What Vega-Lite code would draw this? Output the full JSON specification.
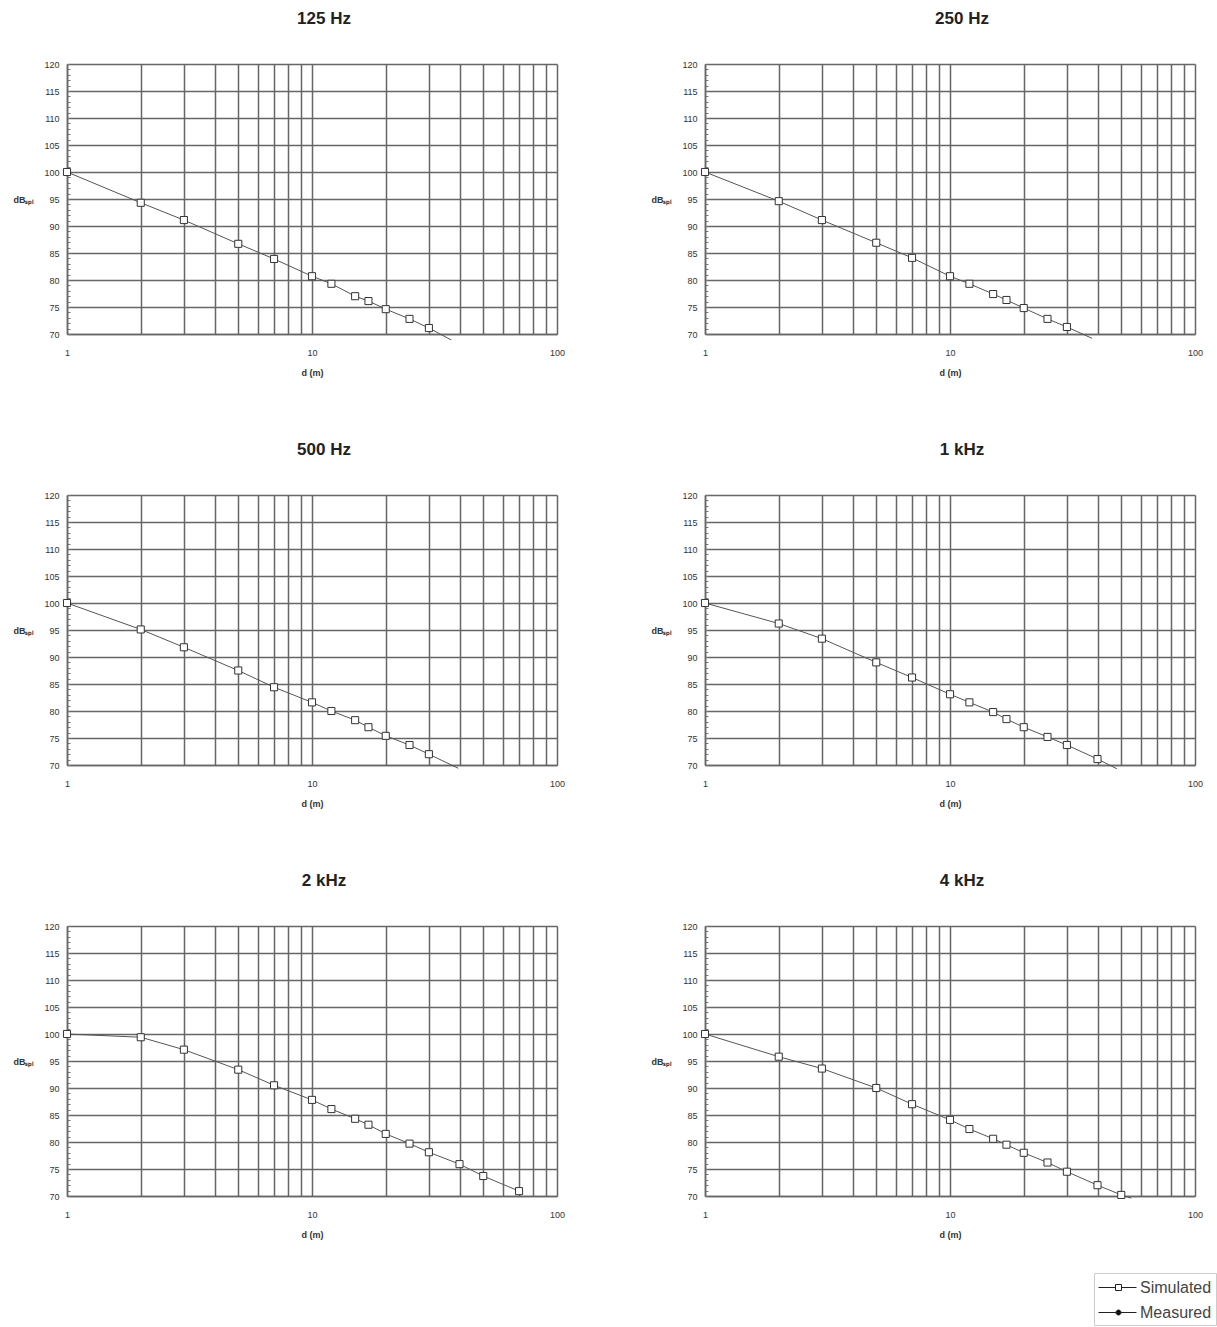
{
  "$schema": "https://vega.github.io/schema/vega-lite/v6.json",
  "background": "white",
  "padding": {"left": 13, "top": 10, "right": 0, "bottom": 0},
  "config": {
    "font": "Liberation Sans",
    "view": {"stroke": null},
    "title": {"font": "Liberation Sans", "fontSize": 17, "fontWeight": "bold", "color": "#222", "offset": 32, "anchor": "middle", "dx": 12},
    "axis": {"labelFont": "Liberation Sans", "titleFont": "Liberation Sans", "labelColor": "#333", "titleColor": "#333"}
  },
  "datasets": {
    "pts": [
      {"panel": "125 Hz", "d": 1, "db": 100, "series": "Simulated", "marker": true},
      {"panel": "125 Hz", "d": 2, "db": 94.3, "series": "Simulated", "marker": true},
      {"panel": "125 Hz", "d": 3, "db": 91.1, "series": "Simulated", "marker": true},
      {"panel": "125 Hz", "d": 5, "db": 86.7, "series": "Simulated", "marker": true},
      {"panel": "125 Hz", "d": 7, "db": 83.9, "series": "Simulated", "marker": true},
      {"panel": "125 Hz", "d": 10, "db": 80.7, "series": "Simulated", "marker": true},
      {"panel": "125 Hz", "d": 12, "db": 79.3, "series": "Simulated", "marker": true},
      {"panel": "125 Hz", "d": 15, "db": 77.0, "series": "Simulated", "marker": true},
      {"panel": "125 Hz", "d": 17, "db": 76.1, "series": "Simulated", "marker": true},
      {"panel": "125 Hz", "d": 20, "db": 74.6, "series": "Simulated", "marker": true},
      {"panel": "125 Hz", "d": 25, "db": 72.8, "series": "Simulated", "marker": true},
      {"panel": "125 Hz", "d": 30, "db": 71.1, "series": "Simulated", "marker": true},
      {"panel": "125 Hz", "d": 37, "db": 68.9, "series": "Simulated", "marker": false},
      {"panel": "250 Hz", "d": 1, "db": 100, "series": "Simulated", "marker": true},
      {"panel": "250 Hz", "d": 2, "db": 94.6, "series": "Simulated", "marker": true},
      {"panel": "250 Hz", "d": 3, "db": 91.1, "series": "Simulated", "marker": true},
      {"panel": "250 Hz", "d": 5, "db": 86.9, "series": "Simulated", "marker": true},
      {"panel": "250 Hz", "d": 7, "db": 84.1, "series": "Simulated", "marker": true},
      {"panel": "250 Hz", "d": 10, "db": 80.7, "series": "Simulated", "marker": true},
      {"panel": "250 Hz", "d": 12, "db": 79.3, "series": "Simulated", "marker": true},
      {"panel": "250 Hz", "d": 15, "db": 77.4, "series": "Simulated", "marker": true},
      {"panel": "250 Hz", "d": 17, "db": 76.3, "series": "Simulated", "marker": true},
      {"panel": "250 Hz", "d": 20, "db": 74.8, "series": "Simulated", "marker": true},
      {"panel": "250 Hz", "d": 25, "db": 72.8, "series": "Simulated", "marker": true},
      {"panel": "250 Hz", "d": 30, "db": 71.3, "series": "Simulated", "marker": true},
      {"panel": "250 Hz", "d": 38, "db": 69.2, "series": "Simulated", "marker": false},
      {"panel": "500 Hz", "d": 1, "db": 100, "series": "Simulated", "marker": true},
      {"panel": "500 Hz", "d": 2, "db": 95.1, "series": "Simulated", "marker": true},
      {"panel": "500 Hz", "d": 3, "db": 91.8, "series": "Simulated", "marker": true},
      {"panel": "500 Hz", "d": 5, "db": 87.5, "series": "Simulated", "marker": true},
      {"panel": "500 Hz", "d": 7, "db": 84.4, "series": "Simulated", "marker": true},
      {"panel": "500 Hz", "d": 10, "db": 81.6, "series": "Simulated", "marker": true},
      {"panel": "500 Hz", "d": 12, "db": 80.0, "series": "Simulated", "marker": true},
      {"panel": "500 Hz", "d": 15, "db": 78.3, "series": "Simulated", "marker": true},
      {"panel": "500 Hz", "d": 17, "db": 77.0, "series": "Simulated", "marker": true},
      {"panel": "500 Hz", "d": 20, "db": 75.4, "series": "Simulated", "marker": true},
      {"panel": "500 Hz", "d": 25, "db": 73.7, "series": "Simulated", "marker": true},
      {"panel": "500 Hz", "d": 30, "db": 72.0, "series": "Simulated", "marker": true},
      {"panel": "500 Hz", "d": 39.5, "db": 69.4, "series": "Simulated", "marker": false},
      {"panel": "1 kHz", "d": 1, "db": 100, "series": "Simulated", "marker": true},
      {"panel": "1 kHz", "d": 2, "db": 96.2, "series": "Simulated", "marker": true},
      {"panel": "1 kHz", "d": 3, "db": 93.4, "series": "Simulated", "marker": true},
      {"panel": "1 kHz", "d": 5, "db": 89.0, "series": "Simulated", "marker": true},
      {"panel": "1 kHz", "d": 7, "db": 86.2, "series": "Simulated", "marker": true},
      {"panel": "1 kHz", "d": 10, "db": 83.1, "series": "Simulated", "marker": true},
      {"panel": "1 kHz", "d": 12, "db": 81.6, "series": "Simulated", "marker": true},
      {"panel": "1 kHz", "d": 15, "db": 79.8, "series": "Simulated", "marker": true},
      {"panel": "1 kHz", "d": 17, "db": 78.5, "series": "Simulated", "marker": true},
      {"panel": "1 kHz", "d": 20, "db": 77.0, "series": "Simulated", "marker": true},
      {"panel": "1 kHz", "d": 25, "db": 75.2, "series": "Simulated", "marker": true},
      {"panel": "1 kHz", "d": 30, "db": 73.7, "series": "Simulated", "marker": true},
      {"panel": "1 kHz", "d": 40, "db": 71.1, "series": "Simulated", "marker": true},
      {"panel": "1 kHz", "d": 48, "db": 69.3, "series": "Simulated", "marker": false},
      {"panel": "2 kHz", "d": 1, "db": 100, "series": "Simulated", "marker": true},
      {"panel": "2 kHz", "d": 2, "db": 99.4, "series": "Simulated", "marker": true},
      {"panel": "2 kHz", "d": 3, "db": 97.1, "series": "Simulated", "marker": true},
      {"panel": "2 kHz", "d": 5, "db": 93.4, "series": "Simulated", "marker": true},
      {"panel": "2 kHz", "d": 7, "db": 90.5, "series": "Simulated", "marker": true},
      {"panel": "2 kHz", "d": 10, "db": 87.8, "series": "Simulated", "marker": true},
      {"panel": "2 kHz", "d": 12, "db": 86.1, "series": "Simulated", "marker": true},
      {"panel": "2 kHz", "d": 15, "db": 84.3, "series": "Simulated", "marker": true},
      {"panel": "2 kHz", "d": 17, "db": 83.2, "series": "Simulated", "marker": true},
      {"panel": "2 kHz", "d": 20, "db": 81.5, "series": "Simulated", "marker": true},
      {"panel": "2 kHz", "d": 25, "db": 79.7, "series": "Simulated", "marker": true},
      {"panel": "2 kHz", "d": 30, "db": 78.1, "series": "Simulated", "marker": true},
      {"panel": "2 kHz", "d": 40, "db": 75.9, "series": "Simulated", "marker": true},
      {"panel": "2 kHz", "d": 50, "db": 73.7, "series": "Simulated", "marker": true},
      {"panel": "2 kHz", "d": 70, "db": 70.9, "series": "Simulated", "marker": true},
      {"panel": "4 kHz", "d": 1, "db": 100, "series": "Simulated", "marker": true},
      {"panel": "4 kHz", "d": 2, "db": 95.8, "series": "Simulated", "marker": true},
      {"panel": "4 kHz", "d": 3, "db": 93.6, "series": "Simulated", "marker": true},
      {"panel": "4 kHz", "d": 5, "db": 90.0, "series": "Simulated", "marker": true},
      {"panel": "4 kHz", "d": 7, "db": 87.0, "series": "Simulated", "marker": true},
      {"panel": "4 kHz", "d": 10, "db": 84.1, "series": "Simulated", "marker": true},
      {"panel": "4 kHz", "d": 12, "db": 82.4, "series": "Simulated", "marker": true},
      {"panel": "4 kHz", "d": 15, "db": 80.6, "series": "Simulated", "marker": true},
      {"panel": "4 kHz", "d": 17, "db": 79.5, "series": "Simulated", "marker": true},
      {"panel": "4 kHz", "d": 20, "db": 78.0, "series": "Simulated", "marker": true},
      {"panel": "4 kHz", "d": 25, "db": 76.2, "series": "Simulated", "marker": true},
      {"panel": "4 kHz", "d": 30, "db": 74.5, "series": "Simulated", "marker": true},
      {"panel": "4 kHz", "d": 40, "db": 72.0, "series": "Simulated", "marker": true},
      {"panel": "4 kHz", "d": 50, "db": 70.2, "series": "Simulated", "marker": true},
      {"panel": "4 kHz", "d": 55, "db": 69.6, "series": "Simulated", "marker": false}
    ]
  },
  "data": {"name": "pts"},
  "columns": 2,
  "spacing": {"row": 64, "column": 86},
  "resolve": {"scale": {"shape": "shared", "fill": "shared", "stroke": "shared"}},
  "concat": [
    {"title": "125 Hz", "width": 490, "height": 270, "transform": [{"filter": "datum.panel === '125 Hz'"}],
     "encoding": {
      "x": {"field": "d", "type": "quantitative", "scale": {"type": "log", "domain": [1, 100]},
        "axis": {"title": "d (m)", "values": [1,2,3,4,5,6,7,8,9,10,20,30,40,50,60,70,80,90,100], "labelExpr": "indexof([1,10,100], datum.value) >= 0 ? format(datum.value, 'd') : ''", "grid": true, "gridColor": "#666", "gridWidth": 1.5, "gridOpacity": 1, "domainColor": "#666", "domainWidth": 1.5, "ticks": false, "labelPadding": 14, "labelFontSize": 9, "labelFlush": false, "labelOverlap": false, "titleFontSize": 9, "titleFontWeight": "bold", "titlePadding": 11}},
      "y": {"field": "db", "type": "quantitative", "scale": {"domain": [70, 120], "nice": false},
        "axis": {"title": "dBₛₚₗ", "values": [70,71,72,73,74,75,76,77,78,79,80,81,82,83,84,85,86,87,88,89,90,91,92,93,94,95,96,97,98,99,100,101,102,103,104,105,106,107,108,109,110,111,112,113,114,115,116,117,118,119,120], "labelExpr": "datum.value % 5 === 0 ? datum.label : ''", "grid": true, "gridColor": "#666", "gridWidth": 1.5, "gridOpacity": {"condition": {"test": "datum.value % 5 === 0", "value": 1}, "value": 0}, "domainColor": "#666", "domainWidth": 1.5, "ticks": true, "tickSize": -3, "tickColor": "#777", "tickWidth": 1, "labelPadding": 11, "labelFontSize": 9, "labelOverlap": false, "titleAngle": 0, "titleAlign": "right", "titleBaseline": "middle", "titleX": -33, "titleY": 135, "titleFontSize": 9, "titleFontWeight": "bold"}}
     },
     "layer": [
      {"mark": {"type": "line", "stroke": "#555", "strokeWidth": 1}},
      {"transform": [{"filter": "datum.marker"}], "mark": {"type": "point", "shape": "square", "filled": true, "fill": "white", "stroke": "#333", "strokeWidth": 1, "size": 50, "opacity": 1}}
     ]},
    {"title": "250 Hz", "width": 490, "height": 270, "transform": [{"filter": "datum.panel === '250 Hz'"}],
     "encoding": {
      "x": {"field": "d", "type": "quantitative", "scale": {"type": "log", "domain": [1, 100]},
        "axis": {"title": "d (m)", "values": [1,2,3,4,5,6,7,8,9,10,20,30,40,50,60,70,80,90,100], "labelExpr": "indexof([1,10,100], datum.value) >= 0 ? format(datum.value, 'd') : ''", "grid": true, "gridColor": "#666", "gridWidth": 1.5, "gridOpacity": 1, "domainColor": "#666", "domainWidth": 1.5, "ticks": false, "labelPadding": 14, "labelFontSize": 9, "labelFlush": false, "labelOverlap": false, "titleFontSize": 9, "titleFontWeight": "bold", "titlePadding": 11}},
      "y": {"field": "db", "type": "quantitative", "scale": {"domain": [70, 120], "nice": false},
        "axis": {"title": "dBₛₚₗ", "values": [70,71,72,73,74,75,76,77,78,79,80,81,82,83,84,85,86,87,88,89,90,91,92,93,94,95,96,97,98,99,100,101,102,103,104,105,106,107,108,109,110,111,112,113,114,115,116,117,118,119,120], "labelExpr": "datum.value % 5 === 0 ? datum.label : ''", "grid": true, "gridColor": "#666", "gridWidth": 1.5, "gridOpacity": {"condition": {"test": "datum.value % 5 === 0", "value": 1}, "value": 0}, "domainColor": "#666", "domainWidth": 1.5, "ticks": true, "tickSize": -3, "tickColor": "#777", "tickWidth": 1, "labelPadding": 11, "labelFontSize": 9, "labelOverlap": false, "titleAngle": 0, "titleAlign": "right", "titleBaseline": "middle", "titleX": -33, "titleY": 135, "titleFontSize": 9, "titleFontWeight": "bold"}}
     },
     "layer": [
      {"mark": {"type": "line", "stroke": "#555", "strokeWidth": 1}},
      {"transform": [{"filter": "datum.marker"}], "mark": {"type": "point", "shape": "square", "filled": true, "fill": "white", "stroke": "#333", "strokeWidth": 1, "size": 50, "opacity": 1}}
     ]},
    {"title": "500 Hz", "width": 490, "height": 270, "transform": [{"filter": "datum.panel === '500 Hz'"}],
     "encoding": {
      "x": {"field": "d", "type": "quantitative", "scale": {"type": "log", "domain": [1, 100]},
        "axis": {"title": "d (m)", "values": [1,2,3,4,5,6,7,8,9,10,20,30,40,50,60,70,80,90,100], "labelExpr": "indexof([1,10,100], datum.value) >= 0 ? format(datum.value, 'd') : ''", "grid": true, "gridColor": "#666", "gridWidth": 1.5, "gridOpacity": 1, "domainColor": "#666", "domainWidth": 1.5, "ticks": false, "labelPadding": 14, "labelFontSize": 9, "labelFlush": false, "labelOverlap": false, "titleFontSize": 9, "titleFontWeight": "bold", "titlePadding": 11}},
      "y": {"field": "db", "type": "quantitative", "scale": {"domain": [70, 120], "nice": false},
        "axis": {"title": "dBₛₚₗ", "values": [70,71,72,73,74,75,76,77,78,79,80,81,82,83,84,85,86,87,88,89,90,91,92,93,94,95,96,97,98,99,100,101,102,103,104,105,106,107,108,109,110,111,112,113,114,115,116,117,118,119,120], "labelExpr": "datum.value % 5 === 0 ? datum.label : ''", "grid": true, "gridColor": "#666", "gridWidth": 1.5, "gridOpacity": {"condition": {"test": "datum.value % 5 === 0", "value": 1}, "value": 0}, "domainColor": "#666", "domainWidth": 1.5, "ticks": true, "tickSize": -3, "tickColor": "#777", "tickWidth": 1, "labelPadding": 11, "labelFontSize": 9, "labelOverlap": false, "titleAngle": 0, "titleAlign": "right", "titleBaseline": "middle", "titleX": -33, "titleY": 135, "titleFontSize": 9, "titleFontWeight": "bold"}}
     },
     "layer": [
      {"mark": {"type": "line", "stroke": "#555", "strokeWidth": 1}},
      {"transform": [{"filter": "datum.marker"}], "mark": {"type": "point", "shape": "square", "filled": true, "fill": "white", "stroke": "#333", "strokeWidth": 1, "size": 50, "opacity": 1}}
     ]},
    {"title": "1 kHz", "width": 490, "height": 270, "transform": [{"filter": "datum.panel === '1 kHz'"}],
     "encoding": {
      "x": {"field": "d", "type": "quantitative", "scale": {"type": "log", "domain": [1, 100]},
        "axis": {"title": "d (m)", "values": [1,2,3,4,5,6,7,8,9,10,20,30,40,50,60,70,80,90,100], "labelExpr": "indexof([1,10,100], datum.value) >= 0 ? format(datum.value, 'd') : ''", "grid": true, "gridColor": "#666", "gridWidth": 1.5, "gridOpacity": 1, "domainColor": "#666", "domainWidth": 1.5, "ticks": false, "labelPadding": 14, "labelFontSize": 9, "labelFlush": false, "labelOverlap": false, "titleFontSize": 9, "titleFontWeight": "bold", "titlePadding": 11}},
      "y": {"field": "db", "type": "quantitative", "scale": {"domain": [70, 120], "nice": false},
        "axis": {"title": "dBₛₚₗ", "values": [70,71,72,73,74,75,76,77,78,79,80,81,82,83,84,85,86,87,88,89,90,91,92,93,94,95,96,97,98,99,100,101,102,103,104,105,106,107,108,109,110,111,112,113,114,115,116,117,118,119,120], "labelExpr": "datum.value % 5 === 0 ? datum.label : ''", "grid": true, "gridColor": "#666", "gridWidth": 1.5, "gridOpacity": {"condition": {"test": "datum.value % 5 === 0", "value": 1}, "value": 0}, "domainColor": "#666", "domainWidth": 1.5, "ticks": true, "tickSize": -3, "tickColor": "#777", "tickWidth": 1, "labelPadding": 11, "labelFontSize": 9, "labelOverlap": false, "titleAngle": 0, "titleAlign": "right", "titleBaseline": "middle", "titleX": -33, "titleY": 135, "titleFontSize": 9, "titleFontWeight": "bold"}}
     },
     "layer": [
      {"mark": {"type": "line", "stroke": "#555", "strokeWidth": 1}},
      {"transform": [{"filter": "datum.marker"}], "mark": {"type": "point", "shape": "square", "filled": true, "fill": "white", "stroke": "#333", "strokeWidth": 1, "size": 50, "opacity": 1}}
     ]},
    {"title": "2 kHz", "width": 490, "height": 270, "transform": [{"filter": "datum.panel === '2 kHz'"}],
     "encoding": {
      "x": {"field": "d", "type": "quantitative", "scale": {"type": "log", "domain": [1, 100]},
        "axis": {"title": "d (m)", "values": [1,2,3,4,5,6,7,8,9,10,20,30,40,50,60,70,80,90,100], "labelExpr": "indexof([1,10,100], datum.value) >= 0 ? format(datum.value, 'd') : ''", "grid": true, "gridColor": "#666", "gridWidth": 1.5, "gridOpacity": 1, "domainColor": "#666", "domainWidth": 1.5, "ticks": false, "labelPadding": 14, "labelFontSize": 9, "labelFlush": false, "labelOverlap": false, "titleFontSize": 9, "titleFontWeight": "bold", "titlePadding": 11}},
      "y": {"field": "db", "type": "quantitative", "scale": {"domain": [70, 120], "nice": false},
        "axis": {"title": "dBₛₚₗ", "values": [70,71,72,73,74,75,76,77,78,79,80,81,82,83,84,85,86,87,88,89,90,91,92,93,94,95,96,97,98,99,100,101,102,103,104,105,106,107,108,109,110,111,112,113,114,115,116,117,118,119,120], "labelExpr": "datum.value % 5 === 0 ? datum.label : ''", "grid": true, "gridColor": "#666", "gridWidth": 1.5, "gridOpacity": {"condition": {"test": "datum.value % 5 === 0", "value": 1}, "value": 0}, "domainColor": "#666", "domainWidth": 1.5, "ticks": true, "tickSize": -3, "tickColor": "#777", "tickWidth": 1, "labelPadding": 11, "labelFontSize": 9, "labelOverlap": false, "titleAngle": 0, "titleAlign": "right", "titleBaseline": "middle", "titleX": -33, "titleY": 135, "titleFontSize": 9, "titleFontWeight": "bold"}}
     },
     "layer": [
      {"mark": {"type": "line", "stroke": "#555", "strokeWidth": 1}},
      {"transform": [{"filter": "datum.marker"}], "mark": {"type": "point", "shape": "square", "filled": true, "fill": "white", "stroke": "#333", "strokeWidth": 1, "size": 50, "opacity": 1}}
     ]},
    {"title": "4 kHz", "width": 490, "height": 270, "transform": [{"filter": "datum.panel === '4 kHz'"}],
     "encoding": {
      "x": {"field": "d", "type": "quantitative", "scale": {"type": "log", "domain": [1, 100]},
        "axis": {"title": "d (m)", "values": [1,2,3,4,5,6,7,8,9,10,20,30,40,50,60,70,80,90,100], "labelExpr": "indexof([1,10,100], datum.value) >= 0 ? format(datum.value, 'd') : ''", "grid": true, "gridColor": "#666", "gridWidth": 1.5, "gridOpacity": 1, "domainColor": "#666", "domainWidth": 1.5, "ticks": false, "labelPadding": 14, "labelFontSize": 9, "labelFlush": false, "labelOverlap": false, "titleFontSize": 9, "titleFontWeight": "bold", "titlePadding": 11}},
      "y": {"field": "db", "type": "quantitative", "scale": {"domain": [70, 120], "nice": false},
        "axis": {"title": "dBₛₚₗ", "values": [70,71,72,73,74,75,76,77,78,79,80,81,82,83,84,85,86,87,88,89,90,91,92,93,94,95,96,97,98,99,100,101,102,103,104,105,106,107,108,109,110,111,112,113,114,115,116,117,118,119,120], "labelExpr": "datum.value % 5 === 0 ? datum.label : ''", "grid": true, "gridColor": "#666", "gridWidth": 1.5, "gridOpacity": {"condition": {"test": "datum.value % 5 === 0", "value": 1}, "value": 0}, "domainColor": "#666", "domainWidth": 1.5, "ticks": true, "tickSize": -3, "tickColor": "#777", "tickWidth": 1, "labelPadding": 11, "labelFontSize": 9, "labelOverlap": false, "titleAngle": 0, "titleAlign": "right", "titleBaseline": "middle", "titleX": -33, "titleY": 135, "titleFontSize": 9, "titleFontWeight": "bold"}}
     },
     "layer": [
      {"mark": {"type": "line", "stroke": "#555", "strokeWidth": 1}},
      {"transform": [{"filter": "datum.marker"}], "mark": {"type": "point", "shape": "square", "filled": true, "fill": "white", "stroke": "#333", "strokeWidth": 1, "size": 50, "opacity": 1}},
      {"transform": [{"filter": "false"}],
       "mark": {"type": "point", "filled": true, "strokeWidth": 1, "opacity": 1},
       "encoding": {
         "shape": {"field": "series", "type": "nominal",
           "scale": {"domain": ["Simulated", "Measured"], "range": ["M-1,0H0.7M1.3,0H2.8M0.7,-0.3H1.3V0.3H0.7Z", "M-1,0H2.8M0.75,0A0.25,0.25,0,1,0,1.25,0A0.25,0.25,0,1,0,0.75,0Z"]},
           "legend": {"title": null, "orient": "none", "legendX": 1027, "legendY": 1209, "direction": "vertical", "strokeColor": "#ccc", "padding": 4, "rowPadding": 6, "symbolSize": 400, "symbolStrokeWidth": 1, "labelFontSize": 16, "labelColor": "#444", "labelOffset": 21}},
         "fill": {"field": "series", "type": "nominal",
           "scale": {"domain": ["Simulated", "Measured"], "range": ["white", "black"]},
           "legend": {"title": null, "orient": "none", "legendX": 1027, "legendY": 1209, "direction": "vertical", "strokeColor": "#ccc", "padding": 4, "rowPadding": 6, "symbolSize": 400, "symbolStrokeWidth": 1, "labelFontSize": 16, "labelColor": "#444", "labelOffset": 21}},
         "stroke": {"field": "series", "type": "nominal",
           "scale": {"domain": ["Simulated", "Measured"], "range": ["#222", "#222"]},
           "legend": {"title": null, "orient": "none", "legendX": 1027, "legendY": 1209, "direction": "vertical", "strokeColor": "#ccc", "padding": 4, "rowPadding": 6, "symbolSize": 400, "symbolStrokeWidth": 1, "labelFontSize": 16, "labelColor": "#444", "labelOffset": 21}}
       }}
     ]}
  ]
}
